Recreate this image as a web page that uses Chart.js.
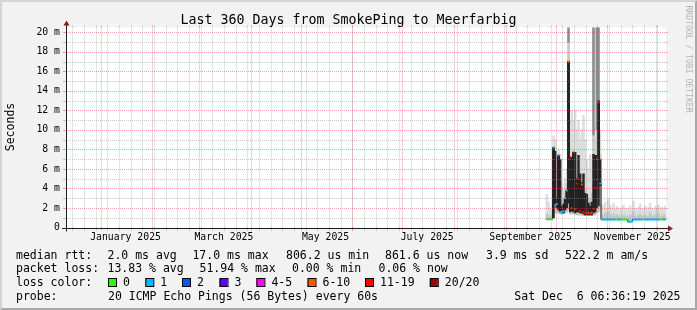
<!DOCTYPE html>
<html>
<head>
<meta charset="utf-8">
<script src="https://cdn.jsdelivr.net/npm/chart.js@4/dist/chart.umd.min.js"></script>
<style>
  html, body { margin: 0; padding: 0; background: #f2f2f2; }
  canvas { display: block; }
</style>
</head>
<body>
<canvas id="smokeChart" width="697" height="310"></canvas>
<script>
// SmokePing, last 360 days, graph ends Sat Dec 6 06:36:19 2025.
// x values are days since the graph start (Dec 11 2024 06:36:19)
const firstDataDay = 288;

// median rtt per day (ms)
const median = [
  0.85, 0.85, 0.85, 0.85, 8.2, 2.3, 2.4, 7.4, 1.6, 1.6, 1.7, 3.0, 3.8,
  17.0, 7.2, 2.0, 7.7, 1.9, 4.5, 5.0, 1.7, 4.4, 1.6, 1.5, 1.4, 1.5, 1.4, 1.5,
  1.9, 4.1, 7.0, 12.8, 4.5,
  0.82, 0.83, 0.82, 0.82, 0.81, 0.82, 0.83, 0.82, 0.82, 0.82, 0.81, 0.82, 0.82, 0.83, 0.82, 0.82,
  0.6, 0.6, 0.62,
  0.82, 0.82, 0.81, 0.82, 0.83, 0.82, 0.82, 0.82, 0.81, 0.82, 0.82, 0.83, 0.82, 0.82, 0.81, 0.82,
  0.82, 0.82, 0.83, 0.82
];
// loss bucket per day (index into lossLabels)
const lossBucket = [
  0, 0, 0, 0, 1, 1, 1, 1, 1, 1, 1, 1, 1,
  5, 6, 6, 6, 6, 6, 6, 6, 5, 6, 6, 6, 5, 6, 5,
  6, 6, 6, 6, 1,
  1, 1, 1, 1, 1, 1, 1, 1, 1, 0, 1, 1, 0, 0, 0, 0,
  1, 1, 1,
  1, 1, 1, 1, 1, 1, 0, 1, 1, 1, 1, 1, 1, 1, 1, 1,
  0, 0, 1, 1
];
// smoke: lowest ping, outer (light) top, inner (mid) top (ms)
const smokeLow = [
  0.8, 0.8, 0.8, 0.8, 0.9, 1.5, 1.5, 1.5, 1.4, 1.4, 1.4, 1.5, 1.6,
  1.8, 1.4, 1.4, 1.4, 1.4, 1.3, 1.3, 1.3, 1.3, 1.2, 1.2, 1.2, 1.2, 1.2, 1.2,
  1.3, 1.3, 1.5, 1.6, 1.8,
  0.82, 0.83, 0.82, 0.82, 0.81, 0.82, 0.83, 0.82, 0.82, 0.82, 0.81, 0.82, 0.82, 0.83, 0.82, 0.82,
  0.6, 0.6, 0.62,
  0.82, 0.82, 0.81, 0.82, 0.83, 0.82, 0.82, 0.82, 0.81, 0.82, 0.82, 0.83, 0.82, 0.82, 0.81, 0.82,
  0.82, 0.82, 0.83, 0.82
];
const smokeHigh = [
  3.4, 2.6, 2.0, 1.6, 9.4, 9.0, 5.0, 8.0, 7.5, 4.5, 4.0, 5.0, 6.0,
  21, 11, 12, 11, 12, 10, 11, 9, 10, 11.5, 9, 7, 6, 7.5, 7,
  21, 9, 21, 21, 10,
  2.4, 2.2, 2.6, 2.0, 2.9, 2.3, 2.1, 2.5, 1.9, 2.2, 2.0, 1.8, 2.1, 2.3, 1.9, 2.0,
  1.8, 2.2, 1.9,
  2.7, 2.0, 1.8, 2.1, 2.4, 1.9, 2.0, 2.2, 1.9, 2.1, 2.5, 2.0, 1.8, 2.2, 2.0, 2.3,
  1.9, 2.1, 2.0, 2.2
];
const smokeMid = [
  1.4, 1.3, 1.2, 1.1, 6.5, 6.0, 3.5, 6.0, 5.0, 2.8, 2.8, 3.5, 4.5,
  19, 6, 7, 6, 7, 5.5, 6, 5, 5, 5.5, 4, 3.5, 3, 3, 3.5,
  9.5, 5, 10, 10, 7.5,
  1.3, 1.2, 1.5, 1.2, 1.6, 1.3, 1.2, 1.4, 1.1, 1.3, 1.2, 1.1, 1.3, 1.2, 1.2, 1.1,
  1.1, 1.3, 1.2,
  1.6, 1.2, 1.1, 1.3, 1.4, 1.2, 1.2, 1.3, 1.1, 1.2, 1.5, 1.2, 1.1, 1.3, 1.2, 1.4,
  1.1, 1.2, 1.2, 1.3
];
// dark core of the smoke during the unstable weeks
const coreFirstDay = 292;
const coreLow = [1.0, 2.2, 2.0, 1.8, 1.6, 1.5, 1.5, 1.8, 2.0, 2.5, 1.6, 1.7, 1.6, 1.5, 1.6,
  1.6, 1.5, 1.5, 1.4, 1.3, 1.3, 1.3, 1.3, 1.3, 1.5, 1.6, 2.0, 2.2, 4.3];
const coreHigh = [8.2, 7.8, 3.0, 7.4, 7.0, 2.2, 2.4, 3.0, 3.8, 17.0, 7.2, 7.2, 7.7, 7.7, 5.0,
  7.4, 5.5, 4.6, 5.5, 3.5, 3.4, 2.5, 2.2, 2.6, 7.5, 7.4, 7.4, 13.0, 7.0];
// days where single pings went off the top of the graph
const spikeDays = [301, 316, 318, 319];
const spikeTop = [21, 21, 21, 21];

const xLabels = ['January 2025', 'March 2025', 'May 2025', 'July 2025', 'September 2025', 'November 2025'];
const xLabelMonths = [0, 2, 4, 6, 8, 10];
const yMax = 20.5;

const lossLabels = ['0', '1', '2', '3', '4-5', '6-10', '11-19', '20/20'];
const lossColors = ['#26ff00', '#00b8ff', '#0059ff', '#5e00ff', '#ff00ff', '#ff5500', '#ff0000', '#a10000'];
const rttStats = ['2.0 ms avg', '17.0 ms max', '806.2 us min', '861.6 us now', '3.9 ms sd', '522.2 m am/s'];
const lossStats = ['13.83 % avg', '51.94 % max', '0.00 % min', '0.06 % now'];

const START = Date.UTC(2024, 11, 11, 6, 36, 19);
function dayOf(y, m, d) {
    return (Date.UTC(y, m, d) - START) / 864e5;
}
const monthStarts = [];
for (let m = 0; m < 12; m++) monthStarts.push(dayOf(2025, m, 1));
const weekStarts = [];
for (let d = dayOf(2024, 11, 15); d < 360; d += 7) weekStarts.push(d);
const xLabelDays = xLabelMonths.map(m => dayOf(2025, m, 1) + 15);

const xOf = i => firstDataDay + i + 0.5;
const mono = '"DejaVu Sans Mono", monospace';

const GRID = 'rgba(150,150,150,0.5)';
const MGRID = 'rgba(225,70,70,0.5)';

const paperPlugin = {
    id: 'paper',
    beforeDraw(chart) {
        const ctx = chart.ctx;
        const a = chart.chartArea;
        ctx.save();
        ctx.fillStyle = '#f2f2f2';
        ctx.fillRect(0, 0, 697, 310);
        // 3d border
        ctx.fillStyle = '#d4d4d4';
        ctx.beginPath();
        ctx.moveTo(0, 310); ctx.lineTo(2, 308); ctx.lineTo(2, 2); ctx.lineTo(695, 2); ctx.lineTo(697, 0); ctx.lineTo(0, 0);
        ctx.closePath(); ctx.fill();
        ctx.fillStyle = '#a8a8a8';
        ctx.beginPath();
        ctx.moveTo(2, 308); ctx.lineTo(695, 308); ctx.lineTo(695, 2); ctx.lineTo(697, 0); ctx.lineTo(697, 310); ctx.lineTo(0, 310);
        ctx.closePath(); ctx.fill();
        ctx.fillStyle = '#ffffff';
        ctx.fillRect(a.left, a.top, a.right - a.left, a.bottom - a.top);
        ctx.restore();
    },
    afterDatasetsDraw(chart) {
        const ctx = chart.ctx;
        const a = chart.chartArea;
        const xs = chart.scales.x, ys = chart.scales.y;
        ctx.save();
        ctx.lineWidth = 1;

        function vline(d, color) {
            const px = Math.round(xs.getPixelForValue(d)) + 0.5;
            if (px < a.left + 1 || px > a.right) return;
            ctx.strokeStyle = color;
            ctx.setLineDash([1, 1]);
            ctx.beginPath(); ctx.moveTo(px, a.bottom); ctx.lineTo(px, a.top); ctx.stroke();
            ctx.setLineDash([]);
            ctx.beginPath(); ctx.moveTo(px, a.bottom); ctx.lineTo(px, a.bottom + 3); ctx.stroke();
            ctx.beginPath(); ctx.moveTo(px, a.top - 2); ctx.lineTo(px, a.top); ctx.stroke();
        }
        function hline(v, color) {
            const py = Math.round(ys.getPixelForValue(v)) + 0.5;
            ctx.strokeStyle = color;
            ctx.setLineDash([1, 1]);
            ctx.beginPath(); ctx.moveTo(a.left, py); ctx.lineTo(a.right, py); ctx.stroke();
            ctx.setLineDash([]);
            ctx.beginPath(); ctx.moveTo(a.left - 3, py); ctx.lineTo(a.left, py); ctx.stroke();
            ctx.beginPath(); ctx.moveTo(a.right, py); ctx.lineTo(a.right + 2, py); ctx.stroke();
        }
        weekStarts.forEach(d => vline(d, GRID));
        for (let v = 1; v <= 20; v += 2) hline(v, GRID);
        monthStarts.forEach(d => vline(d, MGRID));
        for (let v = 2; v <= 20; v += 2) hline(v, MGRID);

        // axes with arrows
        const x0 = a.left + 0.5, y0 = Math.round(a.bottom) + 0.5;
        ctx.strokeStyle = '#1f1f1f';
        ctx.beginPath(); ctx.moveTo(a.left - 4, y0); ctx.lineTo(a.right + 4, y0); ctx.stroke();
        ctx.beginPath(); ctx.moveTo(x0, a.bottom + 4); ctx.lineTo(x0, a.top - 4); ctx.stroke();
        ctx.fillStyle = '#801f1f';
        ctx.beginPath();
        ctx.moveTo(a.right + 2, y0 - 3); ctx.lineTo(a.right + 2, y0 + 3); ctx.lineTo(a.right + 7, y0);
        ctx.closePath(); ctx.fill();
        ctx.beginPath();
        ctx.moveTo(x0 - 3, a.top - 2); ctx.lineTo(x0 + 3, a.top - 2); ctx.lineTo(x0, a.top - 7);
        ctx.closePath(); ctx.fill();
        ctx.restore();
    },
    afterDraw(chart) {
        const ctx = chart.ctx;
        ctx.save();
        ctx.fillStyle = '#000';
        ctx.textBaseline = 'alphabetic';

        ctx.font = '13.3px ' + mono;
        ctx.textAlign = 'center';
        ctx.fillText('Last 360 Days from SmokePing to Meerfarbig', 348.5, 24);

        // y axis title
        ctx.font = '11.5px ' + mono;
        ctx.save();
        ctx.translate(13.5, 127);
        ctx.rotate(-Math.PI / 2);
        ctx.fillText('Seconds', 0, 0);
        ctx.restore();

        // watermark
        ctx.save();
        ctx.font = '8.1px ' + mono;
        ctx.fillStyle = '#b3b3b3';
        ctx.translate(686, 59);
        ctx.rotate(Math.PI / 2);
        ctx.fillText('RRDTOOL / TOBI OETIKER', 0, 0);
        ctx.restore();

        // legend
        ctx.textAlign = 'left';
        ctx.font = '11.5px ' + mono;
        const rows = [258.5, 272, 286, 300];
        ctx.fillText('median rtt:', 16, rows[0]);
        const rttX = [107.5, 192.4, 286, 385, 486, 565];
        rttStats.forEach((s, i) => ctx.fillText(s, rttX[i], rows[0]));
        ctx.fillText('packet loss:', 16, rows[1]);
        const lossX = [107.5, 199.5, 292, 378.5];
        lossStats.forEach((s, i) => ctx.fillText(s, lossX[i], rows[1]));
        ctx.fillText('loss color:', 16, rows[2]);
        const boxX = [108, 145.3, 182, 219.5, 256.4, 307.5, 365, 429.8];
        lossLabels.forEach((s, i) => {
            ctx.fillStyle = lossColors[i];
            ctx.fillRect(boxX[i], 278.5, 8, 8);
            ctx.strokeStyle = '#000';
            ctx.lineWidth = 1;
            ctx.strokeRect(boxX[i] + 0.5, 278.5, 8, 8);
            ctx.fillStyle = '#000';
            ctx.fillText(s, boxX[i] + 15, rows[2]);
        });
        ctx.fillText('probe:', 16, rows[3]);
        ctx.fillText('20 ICMP Echo Pings (56 Bytes) every 60s', 108, rows[3]);
        ctx.textAlign = 'right';
        ctx.fillText('Sat Dec  6 06:36:19 2025', 680.5, rows[3]);
        ctx.restore();
    }
};

const barBase = { type: 'bar', grouped: false, barThickness: 1.8, borderWidth: 0, borderSkipped: false };

const datasets = [
    Object.assign({}, barBase, {
        label: 'smoke outer',
        data: smokeHigh.map((v, i) => ({ x: xOf(i), y: [smokeLow[i], v] })),
        backgroundColor: '#dddddd',
        order: 6
    }),
    Object.assign({}, barBase, {
        label: 'smoke inner',
        data: smokeMid.map((v, i) => ({ x: xOf(i), y: [smokeLow[i], v] })),
        backgroundColor: '#c6c6c6',
        order: 5
    }),
    Object.assign({}, barBase, {
        label: 'off scale',
        data: spikeDays.map((d, i) => ({ x: d + 0.5, y: [smokeMid[d - firstDataDay], spikeTop[i]] })),
        backgroundColor: '#8a8a8a',
        order: 4
    }),
    Object.assign({}, barBase, {
        label: 'core',
        data: coreHigh.map((v, i) => ({ x: coreFirstDay + i + 0.5, y: [coreLow[i], v] })),
        backgroundColor: '#262626',
        order: 3
    }),
    {
        type: 'line',
        label: 'median',
        data: median.map((v, i) => ({ x: xOf(i), y: v })),
        stepped: 'middle',
        borderColor: '#1e1e1e',
        borderWidth: 1,
        pointRadius: 0,
        order: 2
    },
    {
        type: 'line',
        label: 'median loss',
        data: median.map((v, i) => ({ x: xOf(i), y: v })),
        showLine: false,
        pointStyle: 'line',
        pointRadius: 0.9,
        pointBorderWidth: 2,
        pointBorderColor: lossBucket.map(l => lossColors[l]),
        pointBackgroundColor: lossBucket.map(l => lossColors[l]),
        order: 1
    }
];

new Chart(document.getElementById('smokeChart').getContext('2d'), {
    type: 'bar',
    data: { datasets: datasets },
    options: {
        responsive: false,
        animation: false,
        events: [],
        layout: { padding: { left: 0, right: 31, top: 27.5, bottom: 0 }, autoPadding: false },
        plugins: { legend: { display: false }, tooltip: { enabled: false }, title: { display: false } },
        scales: {
            x: {
                type: 'linear',
                min: 0,
                max: 360,
                offset: false,
                grid: { display: false, drawTicks: false },
                border: { display: false },
                afterBuildTicks: scale => { scale.ticks = xLabelDays.map(v => ({ value: v })); },
                afterFit: scale => { scale.height = 82.5; },
                ticks: {
                    autoSkip: false,
                    maxRotation: 0,
                    padding: 4.5,
                    color: '#000',
                    font: { family: mono, size: 9.8 },
                    callback: (v, i) => xLabels[i]
                }
            },
            y: {
                min: 0,
                max: yMax,
                grid: { display: false, drawTicks: false },
                border: { display: false },
                afterFit: scale => { scale.width = 66; },
                ticks: {
                    stepSize: 1,
                    includeBounds: false,
                    autoSkip: false,
                    padding: 6,
                    color: '#000',
                    font: { family: mono, size: 9.8 },
                    callback: v => v === 0 ? '0' : (v % 2 === 0 ? v + ' m' : '')
                }
            }
        }
    },
    plugins: [paperPlugin]
});
</script>
</body>
</html>
